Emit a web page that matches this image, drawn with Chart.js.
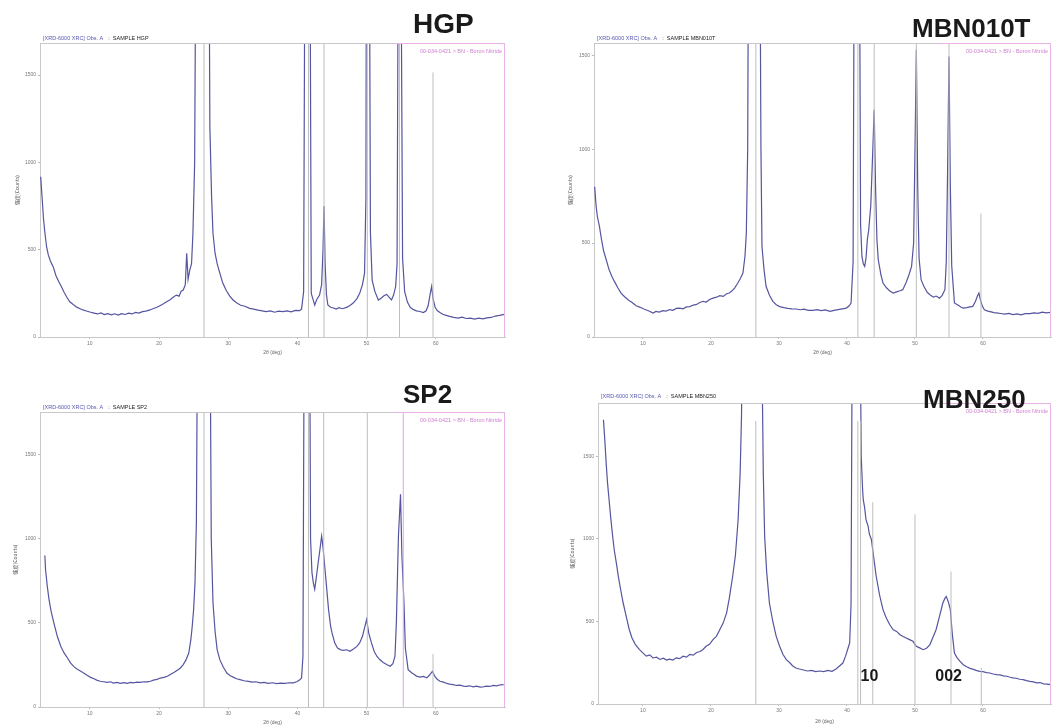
<!DOCTYPE html>
<html>
<head>
<meta charset="utf-8">
<script src="https://cdn.jsdelivr.net/npm/chart.js@4.4.1/dist/chart.umd.min.js"></script>
<style>
  body { margin: 0; background: #fff; width: 1059px; height: 728px; overflow: hidden; position: relative; }
  .panel { position: absolute; width: 529px; height: 364px; }
</style>
</head>
<body>
<div class="panel" style="left:0;top:0"><canvas id="hgpChart" width="529" height="364"></canvas></div>
<div class="panel" style="left:530px;top:0"><canvas id="mbn010tChart" width="529" height="364"></canvas></div>
<div class="panel" style="left:0;top:364px"><canvas id="sp2Chart" width="529" height="364"></canvas></div>
<div class="panel" style="left:530px;top:364px"><canvas id="mbn250Chart" width="529" height="364"></canvas></div>
<script>
// tick labels shared by the four patterns
const xTickValues = [10, 20, 30, 40, 50, 60];
const yTickValues = [0, 500, 1000, 1500];
const panelTitles = ['HGP', 'MBN010T', 'SP2', 'MBN250'];

const hgpScan = [
  [2.9,918],[3.1,800],[3.3,680],[3.5,600],[3.75,517],[4.0,470],[4.3,435],[4.7,403],[5.1,352],[5.5,318],[5.9,288],[6.3,255],[6.7,226],[7.1,202],[7.6,186],[8.1,171],[8.6,162],[9.0,155],[9.5,149],[10.0,143],
  [10.6,137],[11.1,132],[11.6,138],[12.1,128],[12.6,134],[13.1,127],[13.6,133],[14.1,126],[14.6,134],[15.1,129],[15.6,137],[16.1,132],[16.6,141],[17.1,137],[17.6,145],[18.1,148],[18.7,155],[19.2,163],[19.7,170],[20.2,181],
  [20.7,192],[21.1,202],[21.6,214],[22.0,226],[22.5,240],[22.9,234],[23.2,262],[23.5,269],[23.8,300],[24.0,479],[24.2,330],[24.45,384],[24.7,420],[24.9,593],[25.15,1000],[25.35,2500],[26.7,20000],[27.2,2500],[27.35,1200],[27.6,800],
  [27.8,593],[28.1,480],[28.4,420],[28.8,364],[29.2,310],[29.7,268],[30.2,236],[30.7,212],[31.2,196],[31.8,182],[32.4,176],[33.1,164],[33.7,160],[34.3,154],[34.9,150],[35.5,145],[36.1,150],[36.7,142],[37.3,148],[37.9,145],
  [38.5,150],[39.1,144],[39.7,152],[40.3,151],[40.6,160],[40.9,260],[41.1,2500],[41.5,20000],[41.8,2500],[42.0,250],[42.3,210],[42.5,183],[42.8,215],[43.2,240],[43.5,300],[43.7,500],[43.85,750],[44.0,420],[44.2,240],[44.4,183],
  [44.8,170],[45.2,166],[45.6,160],[46.0,168],[46.5,162],[47.1,170],[47.6,180],[48.1,196],[48.6,220],[49.0,250],[49.4,300],[49.7,364],[49.9,800],[50.0,3000],[50.15,20000],[50.35,3000],[50.55,600],[50.8,326],[51.2,260],[51.7,212],
  [52.1,222],[52.5,236],[52.9,244],[53.3,226],[53.6,212],[53.9,240],[54.2,290],[54.4,420],[54.55,2000],[54.75,20000],[55.0,2000],[55.2,450],[55.5,260],[55.9,200],[56.3,170],[56.7,158],[57.2,150],[57.7,146],[58.2,140],[58.6,150],
  [58.9,180],[59.2,250],[59.4,290],[59.6,220],[59.9,170],[60.2,152],[60.6,140],[61.0,130],[61.5,124],[62.0,118],[62.6,112],[63.2,108],[63.8,114],[64.4,106],[65.0,108],[65.6,102],[66.2,108],[66.8,104],[67.4,110],[68.0,112],
  [68.6,120],[69.2,124],[69.9,130]
];
const mbn010tScan = [
  [2.9,800],[3.1,700],[3.3,640],[3.6,589],[3.9,520],[4.2,460],[4.6,411],[5.0,360],[5.4,325],[5.8,296],[6.3,262],[6.8,232],[7.3,214],[7.9,196],[8.4,184],[9.0,166],[9.6,158],[10.2,148],[10.8,140],[11.5,128],
  [11.9,136],[12.4,133],[12.9,140],[13.4,138],[13.9,146],[14.4,142],[14.9,152],[15.4,154],[15.9,150],[16.4,160],[16.9,162],[17.4,170],[17.8,172],[18.3,182],[18.8,190],[19.3,186],[19.8,200],[20.3,207],[20.8,212],[21.3,220],
  [21.8,216],[22.3,230],[22.7,234],[23.1,246],[23.5,262],[23.9,285],[24.3,310],[24.7,340],[25.0,430],[25.2,553],[25.4,1000],[25.55,2500],[26.7,20000],[27.15,2500],[27.35,1000],[27.5,482],[27.8,360],[28.1,270],[28.6,222],[29.1,190],
  [29.6,172],[30.1,162],[30.7,156],[31.3,152],[31.9,150],[32.5,149],[33.1,145],[33.7,148],[34.3,142],[35.0,142],[35.6,146],[36.2,140],[36.8,144],[37.5,137],[38.1,142],[38.7,146],[39.3,150],[39.9,154],[40.3,165],[40.6,181],
  [40.9,400],[41.1,2500],[41.5,20000],[41.8,2500],[42.0,600],[42.2,429],[42.4,390],[42.6,376],[42.8,420],[43.0,520],[43.2,571],[43.5,700],[43.8,1000],[44.0,1209],[44.2,800],[44.4,520],[44.6,411],[45.0,330],[45.3,287],[45.8,262],
  [46.3,245],[46.8,234],[47.3,240],[47.8,246],[48.2,252],[48.7,290],[49.1,330],[49.5,376],[49.8,500],[50.0,1000],[50.2,1530],[50.4,800],[50.6,420],[50.9,305],[51.3,270],[51.8,238],[52.2,225],[52.7,212],[53.1,218],[53.6,207],
  [54.0,222],[54.4,252],[54.6,400],[54.8,900],[55.0,1493],[55.2,800],[55.4,380],[55.8,181],[56.3,170],[56.8,158],[57.1,154],[57.6,156],[58.1,160],[58.5,163],[58.9,190],[59.2,220],[59.4,234],[59.6,200],[59.9,165],[60.2,145],
  [60.7,138],[61.2,134],[61.6,130],[62.0,128],[62.6,125],[63.2,122],[63.8,126],[64.4,119],[65.0,123],[65.6,118],[66.2,124],[66.9,124],[67.5,128],[68.1,126],[68.7,132],[69.3,128],[69.9,131]
];
const sp2Scan = [
  [3.5,900],[3.6,817],[3.85,718],[4.1,640],[4.4,570],[4.8,500],[5.3,420],[5.8,361],[6.3,320],[6.8,290],[7.2,262],[7.7,240],[8.2,224],[8.7,212],[9.1,202],[9.6,188],[10.1,176],[10.6,168],[11.0,160],[11.5,153],
  [12.0,150],[12.5,146],[13.0,150],[13.4,142],[13.9,146],[14.4,140],[14.9,145],[15.4,141],[15.9,146],[16.3,143],[16.8,148],[17.3,146],[17.8,150],[18.3,149],[18.75,153],[19.2,160],[19.7,164],[20.2,172],[20.7,176],[21.2,183],
  [21.7,195],[22.2,206],[22.7,220],[23.1,232],[23.5,252],[23.9,280],[24.3,321],[24.6,400],[24.8,480],[25.0,579],[25.2,738],[25.4,1100],[25.6,2500],[26.5,20000],[27.35,2500],[27.55,1000],[27.8,619],[28.1,450],[28.4,341],[28.8,280],
  [29.3,236],[29.8,202],[30.3,186],[30.8,176],[31.2,168],[31.7,163],[32.3,156],[32.9,152],[33.5,148],[34.0,150],[34.6,143],[35.2,146],[35.8,140],[36.4,144],[37.0,139],[37.6,142],[38.2,140],[38.8,144],[39.4,143],[39.9,150],
  [40.3,160],[40.6,173],[40.8,300],[41.0,2500],[41.3,20000],[41.7,3000],[41.9,1000],[42.1,800],[42.3,738],[42.5,700],[42.7,760],[43.0,857],[43.3,950],[43.5,1016],[43.7,950],[43.9,857],[44.2,720],[44.5,579],[44.8,480],[45.0,440],
  [45.4,380],[45.8,350],[46.2,341],[46.6,336],[47.1,340],[47.6,331],[48.1,345],[48.6,360],[49.0,381],[49.4,420],[49.7,470],[50.0,520],[50.3,440],[50.7,381],[51.1,330],[51.5,300],[51.9,282],[52.4,265],[52.9,252],[53.4,242],
  [53.8,258],[54.1,302],[54.3,500],[54.6,1016],[54.9,1264],[55.1,900],[55.4,619],[55.6,350],[56.0,222],[56.5,204],[57.0,190],[57.2,183],[57.7,178],[58.2,182],[58.7,173],[59.1,190],[59.5,212],[59.9,180],[60.2,165],[60.6,153],
  [61.1,148],[61.6,140],[62.0,136],[62.5,133],[63.0,128],[63.5,130],[64.0,124],[64.4,123],[64.9,126],[65.4,120],[65.9,124],[66.4,118],[66.8,119],[67.3,124],[67.8,122],[68.3,128],[68.8,126],[69.3,132],[69.8,133]
];
const mbn250Scan = [
  [4.2,1723],[4.4,1600],[4.6,1460],[4.8,1340],[5.0,1250],[5.3,1117],[5.6,1000],[5.8,930],[6.1,854],[6.4,770],[6.7,700],[7.1,612],[7.5,540],[8.0,450],[8.4,400],[8.9,360],[9.5,329],[10.0,310],[10.5,290],[11.0,298],
  [11.5,279],[12.0,284],[12.5,270],[13.0,278],[13.5,266],[13.9,272],[14.4,266],[14.9,280],[15.4,275],[15.9,290],[16.4,284],[16.9,300],[17.4,296],[17.9,312],[18.4,318],[18.8,329],[19.3,350],[19.8,362],[20.3,390],[20.8,410],
  [21.3,450],[21.8,490],[22.3,551],[22.7,640],[23.2,774],[23.6,900],[24.0,1117],[24.3,1400],[24.5,1750],[24.7,2500],[25.8,20000],[27.4,2500],[27.7,1400],[27.9,1016],[28.2,800],[28.6,612],[29.1,500],[29.6,410],[30.1,350],[30.6,300],
  [31.1,269],[31.6,250],[32.0,232],[32.5,218],[33.0,212],[33.6,206],[34.2,200],[34.8,204],[35.4,196],[36.0,200],[36.6,196],[37.2,204],[37.8,198],[38.4,212],[38.9,230],[39.4,248],[39.8,290],[40.1,330],[40.4,370],[40.6,600],
  [40.8,2500],[41.3,20000],[41.9,2500],[42.1,1500],[42.3,1300],[42.4,1238],[42.6,1190],[42.8,1117],[43.1,1080],[43.3,1030],[43.6,996],[43.9,900],[44.3,774],[44.8,660],[45.3,572],[45.8,520],[46.3,480],[46.8,450],[47.3,440],[47.8,420],
  [48.2,410],[48.7,400],[49.2,390],[49.7,380],[50.2,350],[50.7,340],[51.2,329],[51.7,338],[52.2,360],[52.6,400],[53.1,450],[53.6,530],[54.1,612],[54.4,640],[54.6,652],[54.9,620],[55.2,572],[55.5,420],[55.8,309],[56.2,280],
  [56.6,260],[57.1,238],[57.6,226],[58.1,216],[58.6,210],[59.0,204],[59.5,198],[60.0,196],[60.5,190],[61.0,188],[61.5,182],[62.0,178],[62.5,176],[63.0,170],[63.5,168],[64.0,162],[64.4,158],[64.9,156],[65.4,150],[65.9,148],
  [66.4,142],[66.9,137],[67.4,134],[67.9,128],[68.4,130],[68.9,122],[69.4,120],[69.9,117]
];

// reference pattern sticks: [2theta, height in % of the axis top]
const hgpRefSticks = [[26.5,100],[41.6,100],[43.85,100],[50.1,100],[59.6,90]];
const hgpBnSticks = [[54.75,100]];
const mbn010tRefSticks = [[26.6,100],[41.6,100],[44.0,100],[50.2,100],[55.0,100],[59.7,42]];
const mbn010tBnSticks = [];
const sp2RefSticks = [[26.5,100],[41.6,100],[43.8,100],[50.1,100],[59.6,18]];
const sp2BnSticks = [[55.3,100]];
const mbn250RefSticks = [[26.6,94],[41.6,94],[42.0,94],[43.8,67],[50.0,63],[55.3,44],[59.75,12]];
const mbn250BnSticks = [];

// peak labels written on the MBN250 pattern: [text, 2theta, counts]
const mbn250PeakLabels = [['10', 43.3, 167], ['002', 54.95, 167]];

const W = 529, H = 364;

const panels = [
  { id: 'hgpChart', title: panelTitles[0], scan: hgpScan, sticks: hgpRefSticks, bn: hgpBnSticks, labels: [],
    xMin: 2.8, yMax: 1684, area: { left: 40, right: 505, top: 43, bottom: 337 },
    titlePos: [413, 33, 28], yTitlePad: 14, xTitlePad: 8, headerGap: 3.5 },
  { id: 'mbn010tChart', title: panelTitles[1], scan: mbn010tScan, sticks: mbn010tRefSticks, bn: mbn010tBnSticks, labels: [],
    xMin: 2.8, yMax: 1565, area: { left: 64, right: 521, top: 43, bottom: 337 },
    titlePos: [382, 37, 26], yTitlePad: 37, xTitlePad: 8, headerGap: 3.5 },
  { id: 'sp2Chart', title: panelTitles[2], scan: sp2Scan, sticks: sp2RefSticks, bn: sp2BnSticks, labels: [],
    xMin: 2.8, yMax: 1753, area: { left: 40, right: 505, top: 48, bottom: 343 },
    titlePos: [403, 39, 26], yTitlePad: 12, xTitlePad: 2, headerGap: 3.5 },
  { id: 'mbn250Chart', title: panelTitles[3], scan: mbn250Scan, sticks: mbn250RefSticks, bn: mbn250BnSticks, labels: mbn250PeakLabels,
    xMin: 3.4, yMax: 1824, area: { left: 68, right: 521, top: 39, bottom: 340 },
    titlePos: [393, 44, 26], yTitlePad: 39, xTitlePad: 3, headerGap: 5.5 }
];

Chart.defaults.font.family = "'Liberation Sans', Arial, sans-serif";

function toPoints(scan) {
  return scan.map(d => ({ x: d[0], y: d[1] }));
}

// each stick becomes a short vertical segment, separated by gaps
function toSticks(sticks, yMax) {
  const out = [];
  sticks.forEach(s => {
    out.push({ x: s[0], y: 0 }, { x: s[0], y: s[1] / 100 * yMax }, { x: s[0], y: null });
  });
  return out;
}

function makeChart(p) {
  const decor = {
    id: 'decor',
    afterDraw(chart) {
      const a = chart.chartArea, c = chart.ctx;
      const xs = chart.scales.x, ys = chart.scales.y;
      c.save();
      // rest of the plot frame
      c.strokeStyle = '#c8c8c8';
      c.lineWidth = 1;
      c.beginPath();
      c.moveTo(a.left, a.top + 0.5);
      c.lineTo(a.right, a.top + 0.5);
      c.stroke();
      // pink card of the reference pattern
      c.strokeStyle = '#e8b4e8';
      c.beginPath();
      c.moveTo(a.right - 112, a.top + 0.5);
      c.lineTo(a.right - 0.5, a.top + 0.5);
      c.lineTo(a.right - 0.5, a.bottom);
      c.stroke();
      c.font = "5.5px 'Liberation Sans'";
      c.fillStyle = '#d080d0';
      c.textAlign = 'right';
      c.fillText('00-034-0421 > BN - Boron Nitride', a.right - 3, a.top + 9.5);
      // scan header
      c.textAlign = 'left';
      c.fillStyle = '#5858b0';
      const scanText = '[XRD-6000 XRC] Obs. A';
      c.fillText(scanText, a.left + 3, a.top - p.headerGap);
      c.fillStyle = '#222';
      c.fillText(':  SAMPLE ' + p.title, a.left + 8 + c.measureText(scanText).width, a.top - p.headerGap);
      // peak labels
      c.font = "bold 16px 'Liberation Sans'";
      c.fillStyle = '#1a1a1a';
      c.textAlign = 'center';
      c.textBaseline = 'middle';
      p.labels.forEach(l => c.fillText(l[0], xs.getPixelForValue(l[1]), ys.getPixelForValue(l[2])));
      // sample name
      c.textAlign = 'left';
      c.textBaseline = 'alphabetic';
      c.font = 'bold ' + p.titlePos[2] + "px 'Liberation Sans'";
      c.fillText(p.title, p.titlePos[0], p.titlePos[1]);
      c.restore();
    }
  };

  new Chart(document.getElementById(p.id).getContext('2d'), {
    type: 'line',
    data: {
      datasets: [
        { data: toSticks(p.sticks, p.yMax), borderColor: '#bdbdbd', borderWidth: 1, pointRadius: 0, spanGaps: false },
        { data: toSticks(p.bn, p.yMax), borderColor: '#e2a6e2', borderWidth: 1, pointRadius: 0, spanGaps: false },
        { data: toPoints(p.scan), borderColor: '#5555a0', borderWidth: 1.2, pointRadius: 0, tension: 0 }
      ]
    },
    options: {
      responsive: false,
      animation: false,
      layout: { padding: { left: 0, bottom: 0, top: p.area.top, right: W - p.area.right } },
      plugins: { legend: { display: false }, tooltip: { enabled: false } },
      scales: {
        x: {
          type: 'linear',
          min: p.xMin,
          max: 70,
          afterFit: s => { s.height = H - p.area.bottom; },
          afterBuildTicks: s => { s.ticks = xTickValues.map(v => ({ value: v })); },
          grid: { drawOnChartArea: false, tickLength: 2, color: '#bbb' },
          border: { color: '#c8c8c8' },
          ticks: { font: { size: 5 }, color: '#777', padding: 2, maxRotation: 0, callback: v => String(v) },
          title: { display: true, text: '2θ (deg)', font: { size: 5 }, color: '#666', padding: { top: 0, bottom: p.xTitlePad } }
        },
        y: {
          min: 0,
          max: p.yMax,
          afterFit: s => { s.width = p.area.left; },
          afterBuildTicks: s => { s.ticks = yTickValues.map(v => ({ value: v })); },
          grid: { drawOnChartArea: false, tickLength: 2, color: '#bbb' },
          border: { color: '#c8c8c8' },
          ticks: { font: { size: 5 }, color: '#777', padding: 2, callback: v => String(v) },
          title: { display: true, text: '強度(Counts)', font: { size: 5, family: "'Noto Sans CJK JP'" }, color: '#555', padding: { top: p.yTitlePad, bottom: 0 } }
        }
      }
    },
    plugins: [decor]
  });
}

panels.forEach(makeChart);
</script>
</body>
</html>
